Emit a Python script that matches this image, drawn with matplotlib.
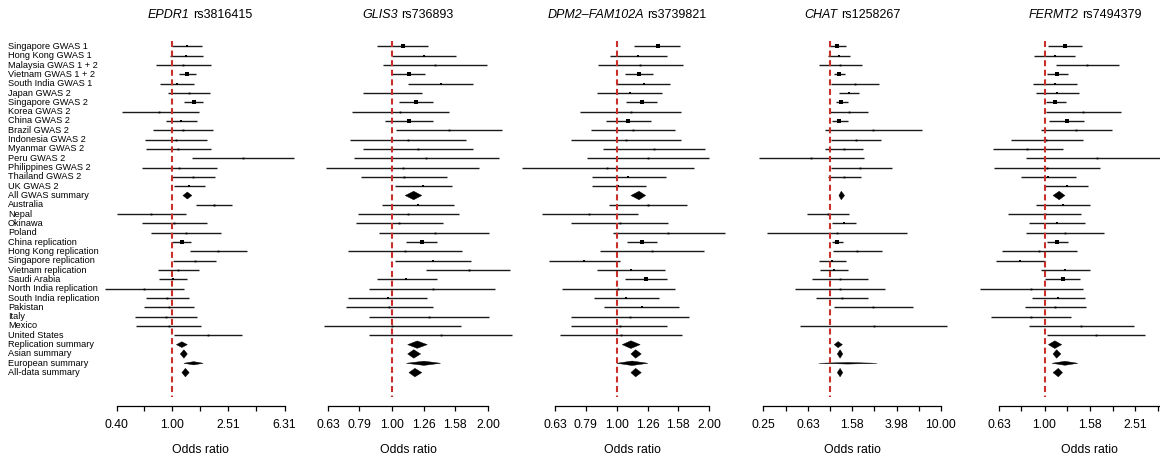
import numpy as np
import matplotlib
matplotlib.use("Agg")
import matplotlib.pyplot as plt
from matplotlib import transforms

plt.rcParams['font.family'] = 'Liberation Sans'

nan = np.nan

studies = [
    "Singapore GWAS 1", "Hong Kong GWAS 1", "Malaysia GWAS 1 + 2", "Vietnam GWAS 1 + 2",
    "South India GWAS 1", "Japan GWAS 2", "Singapore GWAS 2", "Korea GWAS 2",
    "China GWAS 2", "Brazil GWAS 2", "Indonesia GWAS 2", "Myanmar GWAS 2",
    "Peru GWAS 2", "Philippines GWAS 2", "Thailand GWAS 2", "UK GWAS 2",
    "All GWAS summary", "Australia", "Nepal", "Okinawa", "Poland",
    "China replication", "Hong Kong replication", "Singapore replication",
    "Vietnam replication", "Saudi Arabia", "North India replication",
    "South India replication", "Pakistan", "Italy", "Mexico", "United States",
    "Replication summary", "Asian summary", "European summary", "All-data summary",
]
summary_rows = ["All GWAS summary", "Replication summary", "Asian summary",
                "European summary", "All-data summary"]

# EPDR1 rs3816415
epdr1_or = [1.28, 1.25, 1.19, 1.28, 1.08, 1.32, 1.42, 0.81, 1.16, 1.19, 1.06, 1.10,
            3.17, 1.12, 1.41, 1.32, 1.28, 1.97, 0.71, 1.03, 1.25, 1.17, 2.11, 1.44,
            1.10, 1.01, 0.63, 0.92, 0.95, 0.90, 0.94, 1.79, 1.17, 1.21, 1.42, 1.24]
epdr1_lo = [1.00, 0.96, 0.76, 1.11, 0.82, 0.93, 1.22, 0.44, 0.90, 0.73, 0.64, 0.65,
            1.38, 0.61, 1.00, 1.03, 1.19, 1.47, 0.40, 0.61, 0.71, 1.00, 1.33, 1.01,
            0.79, 0.80, 0.33, 0.65, 0.63, 0.54, 0.55, 1.02, 1.07, 1.14, 1.21, 1.17]
epdr1_hi = [1.62, 1.65, 1.89, 1.47, 1.43, 1.87, 1.65, 1.54, 1.51, 1.96, 1.76, 1.89,
            7.34, 2.07, 2.02, 1.71, 1.38, 2.65, 1.25, 1.78, 2.21, 1.37, 3.39, 2.05,
            1.55, 1.28, 1.21, 1.31, 1.42, 1.50, 1.60, 3.15, 1.28, 1.28, 1.66, 1.32]

# GLIS3 rs736893
glis3_or = [1.08, 1.26, 1.36, 1.13, 1.42, 1.00, 1.19, 1.06, 1.13, 1.51, 1.12, 1.21,
            1.28, 1.08, 1.09, 1.25, 1.17, 1.21, 1.12, 1.05, 1.36, 1.24, 1.10, 1.34,
            1.74, 1.11, 1.34, 0.97, 0.98, 1.31, 1.00, 1.42, 1.20, 1.17, 1.26, 1.18]
glis3_lo = [0.90, 1.00, 0.94, 1.00, 1.12, 0.81, 1.05, 0.75, 0.95, 1.03, 0.74, 0.81,
            0.76, 0.62, 0.80, 1.02, 1.10, 0.93, 0.78, 0.77, 0.91, 1.11, 0.73, 1.02,
            1.28, 0.90, 0.85, 0.73, 0.72, 0.85, 0.61, 0.85, 1.12, 1.12, 1.11, 1.13]
glis3_hi = [1.30, 1.59, 1.98, 1.27, 1.80, 1.24, 1.34, 1.51, 1.34, 2.22, 1.71, 1.79,
            2.16, 1.87, 1.49, 1.54, 1.24, 1.57, 1.62, 1.45, 2.02, 1.38, 1.66, 1.77,
            2.35, 1.38, 2.10, 1.29, 1.34, 2.01, 1.65, 2.38, 1.29, 1.23, 1.42, 1.24]

# DPM2-FAM102A rs3739821
dpm2_or = [1.36, 1.17, 1.19, 1.18, 1.22, 1.10, 1.21, 1.11, 1.09, 1.13, 1.07, 1.32,
           1.26, 0.93, 1.09, 1.01, 1.18, 1.26, 0.81, 1.02, 1.47, 1.21, 1.30, 0.78,
           1.11, 1.24, 1.01, 1.07, 1.21, 1.10, 1.02, 1.03, 1.11, 1.15, 1.12, 1.15]
dpm2_lo = [1.14, 0.95, 0.87, 1.06, 1.00, 0.86, 1.07, 0.76, 0.92, 0.82, 0.71, 0.90,
           0.80, 0.49, 0.83, 0.83, 1.11, 0.94, 0.57, 0.71, 0.97, 1.08, 0.88, 0.60,
           0.86, 1.06, 0.66, 0.84, 0.91, 0.71, 0.71, 0.65, 1.04, 1.11, 1.00, 1.11]
dpm2_hi = [1.61, 1.45, 1.64, 1.31, 1.49, 1.40, 1.35, 1.62, 1.29, 1.55, 1.62, 1.93,
           2.00, 1.78, 1.44, 1.24, 1.24, 1.69, 1.17, 1.47, 2.24, 1.35, 1.92, 1.02,
           1.43, 1.46, 1.55, 1.37, 1.59, 1.71, 1.46, 1.63, 1.19, 1.20, 1.26, 1.20]

# CHAT rs1258267 (nan = not available)
chat_or = [1.16, 1.20, 1.23, 1.21, 1.67, 1.48, 1.26, 1.48, 1.20, 2.44, 1.70, 1.32,
           0.67, 1.86, 1.34, nan, 1.26, nan, 0.96, 1.34, 1.16, 1.16, 1.76, 1.04,
           1.08, 1.22, 1.22, 1.27, 2.45, nan, 2.47, nan, 1.18, 1.23, 1.44, 1.23]
chat_lo = [0.97, 0.95, 0.79, 1.09, 1.01, 1.21, 1.12, 1.00, 1.04, 0.90, 1.02, 0.90,
           0.23, 1.02, 0.95, nan, 1.20, nan, 0.62, 1.04, 0.27, 1.05, 1.06, 0.79,
           0.81, 0.68, 0.48, 0.74, 1.08, nan, 0.54, nan, 1.09, 1.16, 0.79, 1.16]
chat_hi = [1.39, 1.51, 1.94, 1.37, 2.74, 1.82, 1.44, 2.21, 1.44, 6.70, 2.86, 1.96,
           2.01, 3.65, 1.89, nan, 1.35, nan, 1.49, 1.71, 4.97, 1.30, 2.94, 1.38,
           1.44, 2.20, 3.11, 2.18, 5.56, nan, 11.4, nan, 1.29, 1.30, 2.65, 1.30]

# FERMT2 rs7494379
fermt2_or = [1.23, 1.11, 1.54, 1.14, 1.11, 1.14, 1.11, 1.48, 1.25, 1.38, 1.02, 0.84,
             1.71, 1.03, 1.04, 1.25, 1.16, 1.21, 1.00, 1.13, 1.23, 1.14, 0.95, 0.78,
             1.23, 1.20, 0.87, 1.15, 1.11, 0.87, 1.45, 1.69, 1.11, 1.13, 1.23, 1.15]
fermt2_lo = [1.04, 0.90, 1.12, 1.03, 0.89, 0.92, 1.01, 1.01, 1.05, 0.96, 0.71, 0.59,
             0.83, 0.60, 0.79, 1.00, 1.09, 0.92, 0.69, 0.85, 0.83, 1.03, 0.65, 0.61,
             0.96, 1.00, 0.52, 0.88, 0.82, 0.58, 0.85, 1.03, 1.04, 1.09, 1.08, 1.09]
fermt2_hi = [1.46, 1.36, 2.13, 1.27, 1.39, 1.42, 1.24, 2.18, 1.49, 1.99, 1.48, 1.20,
             3.54, 1.75, 1.37, 1.55, 1.23, 1.58, 1.45, 1.51, 1.82, 1.27, 1.39, 1.00,
             1.58, 1.44, 1.48, 1.50, 1.52, 1.31, 2.48, 2.77, 1.19, 1.18, 1.40, 1.20]

panels = [
    dict(gene='EPDR1', snp='rs3816415', est=epdr1_or, lo=epdr1_lo, hi=epdr1_hi,
         ticks=[0.40, 0.63, 1.00, 1.58, 2.51, 3.98, 6.31],
         labels=['0.40', '', '1.00', '', '2.51', '', '6.31'],
         px=(116.5, 284.5), title_x=200),
    dict(gene='GLIS3', snp='rs736893', est=glis3_or, lo=glis3_lo, hi=glis3_hi,
         ticks=[0.63, 0.79, 1.00, 1.26, 1.58, 2.00],
         labels=['0.63', '0.79', '1.00', '1.26', '1.58', '2.00'],
         px=(328, 488), title_x=408),
    dict(gene='DPM2\u2013FAM102A', snp='rs3739821', est=dpm2_or, lo=dpm2_lo, hi=dpm2_hi,
         ticks=[0.63, 0.79, 1.00, 1.26, 1.58, 2.00],
         labels=['0.63', '0.79', '1.00', '1.26', '1.58', '2.00'],
         px=(555.4, 709.4), title_x=627),
    dict(gene='CHAT', snp='rs1258267', est=chat_or, lo=chat_lo, hi=chat_hi,
         ticks=[0.25, 0.40, 0.63, 1.00, 1.58, 2.51, 3.98, 6.31, 10.00],
         labels=['0.25', '', '0.63', '', '1.58', '', '3.98', '', '10.00'],
         px=(763.4, 941), title_x=852),
    dict(gene='FERMT2', snp='rs7494379', est=fermt2_or, lo=fermt2_lo, hi=fermt2_hi,
         ticks=[0.63, 0.79, 1.00, 1.26, 1.58, 2.00, 2.51, 3.16, 3.98],
         labels=['0.63', '', '1.00', '', '1.58', '', '2.51', '', ''],
         px=(999, 1180.7), title_x=1085),
]

W, H = 1160, 459
ROW_PX = 9.32
TOP_PX, BOT_PX = 37.1, 405.7
RED = '#c9302c'

fig = plt.figure(figsize=(W / 100, H / 100), dpi=100)
renderer = fig.canvas.get_renderer()
axes = []
for p in panels:
    left, right = p['px']
    ax = fig.add_axes([left / W, 1 - BOT_PX / H, (right - left) / W, (BOT_PX - TOP_PX) / H])
    axes.append(ax)
    ax.set_xscale('log')
    ax.set_xlim(p['ticks'][0], p['ticks'][-1])
    ax.set_ylim(1 + (BOT_PX - 46.4) / ROW_PX, 1 + (TOP_PX - 46.4) / ROW_PX)
    ax.patch.set_visible(False)
    for s in ['top', 'left', 'right']:
        ax.spines[s].set_visible(False)
    ax.spines['bottom'].set_linewidth(0.9)
    ax.set_yticks([])
    ax.set_xticks(p['ticks'])
    ax.set_xticklabels(p['labels'])
    ax.minorticks_off()
    ax.tick_params(axis='x', length=3.6, width=0.9, labelsize=8.8, pad=6)
    ax.set_xlabel('Odds ratio', fontsize=8.8, labelpad=9)

    # title: italic gene name + plain SNP id, centred on title_x
    t1 = fig.text(0, 0, p['gene'], style='italic', fontsize=9, va='center', ha='left')
    t2 = fig.text(0, 0, p['snp'], fontsize=9, va='center', ha='left')
    w1 = t1.get_window_extent(renderer).width
    w2 = t2.get_window_extent(renderer).width
    gap = 3.5
    x0 = p['title_x'] - (w1 + gap + w2) / 2
    t1.set_position((x0 / W, 1 - 15 / H))
    t2.set_position(((x0 + w1 + gap) / W, 1 - 15 / H))

    for i, name in enumerate(studies):
        est, lo, hi = p['est'][i], p['lo'][i], p['hi'][i]
        if np.isnan(est):
            continue
        y = i + 1
        w = np.log10(hi / lo)
        if name in summary_rows:
            h = max(1.6, min(8.5, 0.45 / w)) / ROW_PX
            ax.fill([lo, est, hi, est], [y, y - h / 2, y, y + h / 2],
                    color='black', lw=0.3, clip_on=False, zorder=3)
        else:
            ax.plot([lo, hi], [y, y], color='#1a1a1a', lw=1.0, clip_on=False,
                    solid_capstyle='butt', zorder=2)
            side = min(4.6, max(1.8, 0.5 / w))
            ax.plot(est, y, marker='s', ms=side * 0.72, mew=0, color='black',
                    clip_on=False, zorder=3)

    ax.plot([1, 1], [0.4, 1 + (397 - 46.4) / ROW_PX], color=RED, lw=1.5,
            ls=(0, (2.9, 1.7)), clip_on=False, zorder=5)

# study labels on the left
trans = transforms.blended_transform_factory(fig.transFigure, axes[0].transData)
for i, name in enumerate(studies):
    fig.text(8 / W, i + 1, name, transform=trans, fontsize=6.6, va='center', ha='left')

fig.savefig('out.png', dpi=100)
